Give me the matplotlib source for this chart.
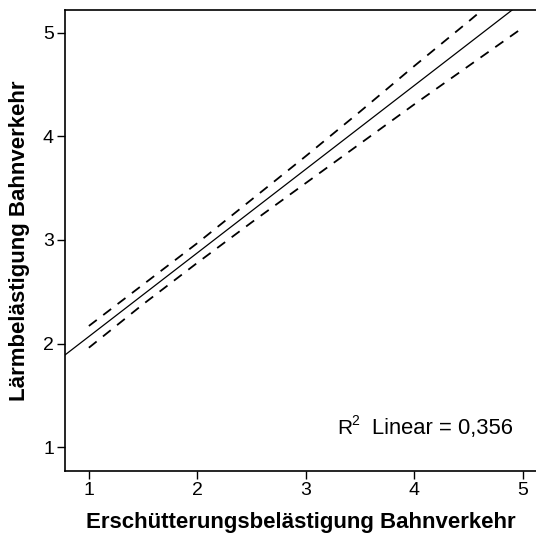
import numpy as np
import matplotlib
matplotlib.use("Agg")
import matplotlib.pyplot as plt

plt.rcParams["font.family"] = ["Liberation Sans", "DejaVu Sans"]

# regression line
fit_intercept = 1.26
fit_slope = 0.808

# 95% confidence band of the mean
band_x = [1.0, 1.5, 2.0, 2.5, 3.0, 3.5, 4.0, 4.5, 5.0]
band_upper = [2.17, 2.57, 2.97, 3.39, 3.81, 4.24, 4.68, 5.11, 5.55]
band_lower = [1.96, 2.38, 2.78, 3.17, 3.55, 3.93, 4.31, 4.68, 5.05]

x_ticks = [1, 2, 3, 4, 5]
y_ticks = [1, 2, 3, 4, 5]
r2_text = "0,356"

fig = plt.figure(figsize=(5.36, 5.35), dpi=100)
ax = fig.add_axes([65 / 536, 64 / 535, 472 / 536, 461 / 535])

ax.axline((0, fit_intercept), slope=fit_slope, color="black", lw=0.9)
ax.plot(band_x, band_upper, color="black", lw=1.3, ls=(0, (5.5, 4.5)))
ax.plot(band_x, band_lower, color="black", lw=1.3, ls=(0, (5.5, 4.5)))

ax.set_xlim(0.78, 5.13)
ax.set_ylim(0.77, 5.22)
ax.set_xticks(x_ticks)
ax.set_yticks(y_ticks)
ax.tick_params(direction="out", length=6, width=1, labelsize=14, pad=2)
for s in ax.spines.values():
    s.set_linewidth(1.2)
ax.spines["right"].set_visible(False)

ax.set_xlabel("Erschütterungsbelästigung Bahnverkehr", fontsize=16,
              fontweight="bold", labelpad=9)
ax.set_ylabel("Lärmbelästigung Bahnverkehr", fontsize=16,
              fontweight="bold", labelpad=9)

# "R² Linear = ..." annotation, superscript drawn as its own small text
anchor = (0.576, 0.08)
ax.annotate("R", anchor, xycoords="axes fraction", fontsize=15,
            va="baseline", ha="left")
ax.annotate("2", anchor, xycoords="axes fraction", xytext=(10.5, 6.5),
            textcoords="offset points", fontsize=10, va="baseline", ha="left")
ax.annotate("Linear = " + r2_text, anchor, xycoords="axes fraction",
            xytext=(25, 0), textcoords="offset points", fontsize=15.8,
            va="baseline", ha="left")

fig.savefig("out.png", dpi=100)
